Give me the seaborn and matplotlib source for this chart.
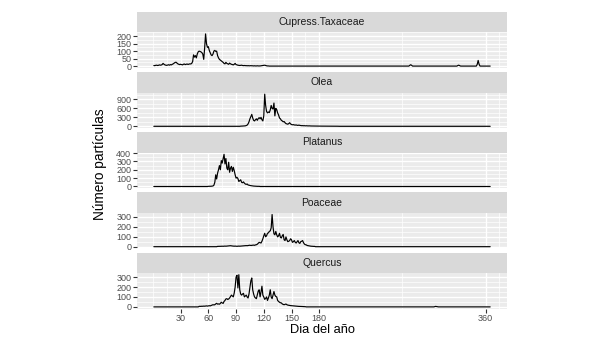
import numpy as np
import pandas as pd
import seaborn as sns
import matplotlib.pyplot as plt
from matplotlib.ticker import MultipleLocator, FixedLocator

# Daily pollen counts (days outside the season are 0)
taxa = ['Cupress.Taxaceae', 'Olea', 'Platanus', 'Poaceae', 'Quercus']

cupress_start = 1
cupress_vals = [4, 3, 5, 6, 4, 5, 8, 6, 7, 10,
                18, 12, 8, 6, 5, 7, 9, 6, 10, 8,
                12, 15, 20, 24, 26, 20, 15, 12, 10, 12,
                10, 8, 12, 14, 10, 12, 14, 11, 13, 15,
                14, 18, 30, 75, 60, 70, 55, 80, 95, 100,
                98, 95, 90, 80, 45, 120, 215, 150, 125, 130,
                105, 90, 75, 70, 80, 100, 105, 98, 100, 70,
                55, 45, 40, 35, 30, 25, 18, 15, 25, 18,
                15, 12, 20, 15, 12, 10, 8, 12, 18, 10,
                8, 6, 5, 4, 5, 6, 4, 3, 4, 3,
                3, 2, 3, 2, 2, 3, 2, 2, 1, 2,
                1, 1, 2, 1, 1, 1, 2, 3, 4, 5, 6, 4, 2, 1, 1]
cupress_late = {278: 5, 279: 9, 280: 5, 330: 4, 331: 6, 332: 3,
                351: 12, 352: 38, 353: 12}

olea_start = 95
olea_vals = [5, 5, 8, 10, 12, 15,
             25, 40, 80, 150, 250, 330, 400, 280, 200, 180,
             220, 250, 200, 260, 290, 250, 300, 220, 180, 350,
             1080, 700, 500, 450, 480, 460, 550, 700, 600, 580,
             780, 350, 600, 560, 450, 380, 280, 250, 200, 180,
             150, 160, 120, 90, 80, 70, 90, 120, 80, 60,
             50, 55, 45, 40, 45, 35, 30, 40, 30, 25,
             20, 22, 18, 20, 15, 18, 15, 12, 15, 12,
             10, 10, 9, 9, 8, 8, 7, 7, 6, 6,
             6, 5, 5, 5, 5, 4, 4, 4, 4, 4,
             3, 3, 3, 3, 3, 3, 2, 2, 2, 2]

platanus_start = 60
platanus_vals = [2, 2, 3, 3, 4, 6,
                 15, 50, 140, 90, 160, 200, 250, 200, 310, 280,
                 330, 385, 270, 335, 220, 200, 290, 170, 220, 240,
                 180, 230, 190, 140, 100, 110, 95, 60, 70, 80,
                 50, 45, 55, 40, 30, 25, 30, 18, 15, 12,
                 10, 8, 6, 5, 4, 3, 3, 2, 2, 2]

poaceae_start = 70
poaceae_vals = [3, 3, 4, 3, 4, 5, 4, 5, 6, 5,
                6, 8, 7, 9, 10, 8, 7, 6, 5, 6,
                5, 4, 5, 6, 5, 6, 7, 8, 9, 10,
                12, 11, 10, 12, 14, 15,
                12, 14, 15, 16, 14, 18, 20, 25, 35, 44,
                40, 37, 55, 80, 110, 135, 100, 110, 135, 140,
                154, 160, 190, 325, 200, 130, 120, 154, 120, 99,
                110, 135, 95, 88, 110, 124, 70, 62, 99, 70,
                51, 55, 62, 80, 70, 44, 50, 62, 45, 37,
                50, 62, 40, 33, 51, 55, 62, 40, 26, 20,
                18, 12, 10, 7, 6, 5, 4, 4, 3, 3]

quercus_start = 50
quercus_vals = [5, 6, 5, 7, 6, 8, 7, 9, 10, 8,
                10, 12, 10, 14, 18, 22, 20, 22, 30, 36,
                28, 30, 27, 35, 47, 40, 35, 55, 65, 80,
                83, 75, 80, 90, 105, 119, 110, 101, 140, 200,
                300, 320, 191, 325, 173, 130, 119, 130, 137, 101,
                110, 119, 100, 90, 130, 200, 263, 292, 173, 130,
                101, 90, 83, 120, 160, 173, 101, 150, 209, 119,
                100, 76, 85, 101, 65, 90, 119, 173, 100, 83,
                120, 155, 119, 105, 101, 65, 55, 47, 42, 40,
                30, 25, 22, 25, 29, 22, 18, 16, 15, 13,
                12, 11, 10, 9, 8, 7, 6, 6, 5, 5,
                4, 4, 3, 3, 3, 2]
quercus_late = {305: 3, 306: 5, 307: 3}

x_ticks = [30, 60, 90, 120, 150, 180, 360]
y_steps = [50, 300, 100, 100, 100]

days = np.arange(1, 366)


def build(start, vals, extra=None):
    s = np.zeros(len(days))
    s[start - 1:start - 1 + len(vals)] = vals
    for d, v in (extra or {}).items():
        s[d - 1] = v
    return s


series = {
    'Cupress.Taxaceae': build(cupress_start, cupress_vals, cupress_late),
    'Olea': build(olea_start, olea_vals),
    'Platanus': build(platanus_start, platanus_vals),
    'Poaceae': build(poaceae_start, poaceae_vals),
    'Quercus': build(quercus_start, quercus_vals, quercus_late),
}
df = pd.concat([pd.DataFrame({'taxon': t, 'day': days, 'count': series[t]})
                for t in taxa], ignore_index=True)

sns.set_theme(style='white')
plt.rcParams['font.family'] = ['Liberation Sans', 'DejaVu Sans']

W, H = 616, 355
fig = plt.figure(figsize=(W / 100, H / 100), dpi=100)

left, right = 137, 507
strip_h, panel_h, period = 20.6, 35.4, 60.2
top0 = 11.7
xmin, xmax = days.min(), days.max()
xpad = 0.05 * (xmax - xmin)

for i, t in enumerate(taxa):
    top = top0 + i * period
    # strip
    sax = fig.add_axes([left / W, 1 - (top + strip_h) / H,
                        (right - left) / W, strip_h / H])
    sax.set_facecolor('#D9D9D9')
    sax.set_xticks([])
    sax.set_yticks([])
    for sp in sax.spines.values():
        sp.set_visible(False)
    sax.text(0.5, 0.5, t, ha='center', va='center', fontsize=7.5,
             color='#1A1A1A', transform=sax.transAxes)

    # panel
    ax = fig.add_axes([left / W, 1 - (top + strip_h + panel_h) / H,
                       (right - left) / W, panel_h / H])
    ax.set_facecolor('#EBEBEB')
    sub = df[df['taxon'] == t]
    sns.lineplot(data=sub, x='day', y='count', ax=ax, color='black',
                 linewidth=0.85)
    m = sub['count'].max()
    ax.set_xlim(xmin - xpad, xmax + xpad)
    ax.set_ylim(-0.05 * m, 1.05 * m)
    ax.xaxis.set_major_locator(FixedLocator(x_ticks))
    ax.xaxis.set_minor_locator(FixedLocator([0, 15, 45, 75, 105, 135, 165, 270, 375]))
    step = y_steps[i]
    ax.yaxis.set_major_locator(MultipleLocator(step))
    ax.yaxis.set_minor_locator(MultipleLocator(step / 2))
    ax.grid(which='major', color='white', linewidth=1.0)
    ax.grid(which='minor', color='white', linewidth=0.5)
    ax.set_axisbelow(True)
    for sp in ax.spines.values():
        sp.set_visible(False)
    ax.set_xlabel('')
    ax.set_ylabel('')
    ax.tick_params(axis='y', which='major', length=2.7, width=0.8,
                   color='#333333', labelcolor='#4D4D4D', labelsize=6.5,
                   pad=1.5, left=True)
    ax.tick_params(which='minor', length=0)
    if i == len(taxa) - 1:
        ax.tick_params(axis='x', which='major', length=2.7, width=0.8,
                       color='#333333', labelcolor='#4D4D4D', labelsize=6.5,
                       pad=1.5, bottom=True)
    else:
        ax.tick_params(axis='x', which='major', length=0, labelbottom=False)

fig.text(100 / W, 1 - 164 / H, 'Número partículas', rotation=90,
         ha='center', va='center', fontsize=9.8, color='black')
fig.text((left + right) / 2 / W, 1 - 330 / H, 'Dia del año',
         ha='center', va='center', fontsize=9.3, color='black')

fig.savefig('out.png', dpi=100)
